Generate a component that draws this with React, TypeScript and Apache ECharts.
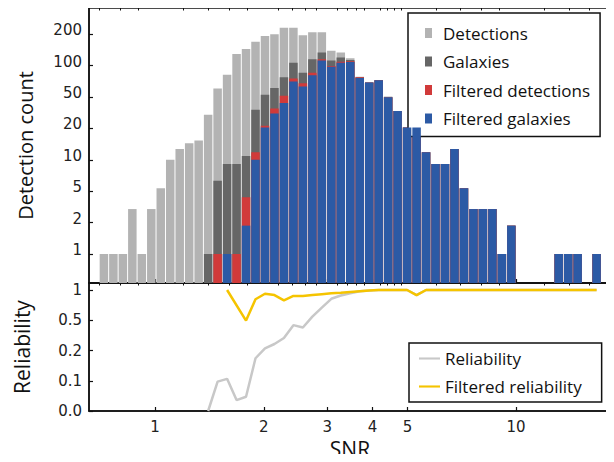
import React, { useEffect, useRef } from "react";
import * as echarts from "echarts";

// ---- data (53 log-spaced SNR bins, 44 bins from 0.7 up to 10) ----
const BIN_LOW_EDGE = 0.7;
const BINS_BELOW_10 = 44;

const detections = [1, 1, 1, 3, 1, 3, 5, 10, 13, 15, 16, 30, 57, 80, 133, 150, 179, 206, 215, 252, 252, 210, 226, 226, 144, 138, 120, 76, 66, 70, 47, 33, 22, 26, 12, 9, 9, 13, 5, 3, 3, 3, 1, 2, 0, 0, 0, 0, 1, 1, 1, 0, 1];
const galaxies = [0, 0, 0, 0, 0, 0, 0, 0, 0, 0, 0, 1, 6, 9, 9, 11, 34, 49, 58, 75, 107, 84, 117, 138, 113, 122, 115, 75, 66, 70, 46, 33, 22, 25, 12, 9, 9, 13, 5, 3, 3, 3, 1, 2, 0, 0, 0, 0, 1, 1, 1, 0, 1];
const filteredDetections = [0, 0, 0, 0, 0, 0, 0, 0, 0, 0, 0, 0, 1, 1, 1, 4, 12, 23, 35, 48, 73, 65, 84, 117, 99, 110, 111, 75, 66, 70, 46, 33, 22, 25, 12, 9, 9, 13, 5, 3, 3, 3, 1, 2, 0, 0, 0, 0, 1, 1, 1, 0, 1];
const filteredGalaxies = [0, 0, 0, 0, 0, 0, 0, 0, 0, 0, 0, 0, 0, 1, 0, 2, 10, 22, 31, 40, 68, 60, 79, 113, 97, 107, 109, 74, 66, 70, 46, 33, 22, 22, 12, 9, 9, 13, 5, 3, 3, 3, 1, 2, 0, 0, 0, 0, 1, 1, 1, 0, 1];

const reliability: (number | null)[] = [null, null, null, null, null, null, null, null, null, null, null, 0, 0.097, 0.105, 0.036, 0.047, 0.177, 0.228, 0.254, 0.296, 0.41, 0.386, 0.508, 0.64, 0.8, 0.87, 0.92, 0.97, 0.99, 1, 1, 1, 1, 0.88, 1, 1, 1, 1, 1, 1, 1, 1, 1, 1, 1, 1, 1, 1, 1, 1, 1, 1, 1];
const filteredReliability: (number | null)[] = [null, null, null, null, null, null, null, null, null, null, null, null, null, 1, null, 0.46, 0.79, 0.91, 0.88, 0.77, 0.86, 0.86, 0.88, 0.9, 0.92, 0.93, 0.95, 0.97, 0.99, 1, 1, 1, 1, 0.88, 1, 1, 1, 1, 1, 1, 1, 1, 1, 1, 1, 1, 1, 1, 1, 1, 1, 1, 1];

const xMajorTicks = [1, 2, 3, 4, 5, 10];
const xMinorTicks = [0.7, 0.8, 0.9, 1.2, 1.4, 1.6, 1.8, 2.2, 2.4, 2.6, 2.8, 3.2, 3.4, 3.6, 3.8, 4.2, 4.4, 4.6, 4.8, 6, 7, 8, 9, 12, 14, 16, 18];
const countTickLabels = ["1", "2", "5", "10", "20", "50", "100", "200"];
const countMinorTicks = [0.2, 0.4, 0.6, 0.8, 2, 3, 4, 5, 6, 7, 8, 9, 20, 30, 40, 50, 60, 70, 80, 90, 200, 300, 400];
const relTickLabels = ["0.0", "0.1", "0.2", "0.5", "1"];
const relMinorTicks = [0.02, 0.04, 0.06, 0.08, 0.3, 0.4, 0.6, 0.7, 0.8, 0.9];

// ---- scale helpers ----
const X_MIN = Math.log10(0.656);
const X_MAX = 1.263;
const logLo = Math.log10(BIN_LOW_EDGE);
const binW = (1 - logLo) / BINS_BELOW_10;
const binCenter = (k: number) => logLo + binW * (k + 0.5);

// count axis: linear 0..1, then one label step (31.4) per third of a decade
const C_ONE = 29;
const C_STEP = 31.4;
const countToAxis = (v: number) => (v <= 1 ? C_ONE * v : C_ONE + 3 * C_STEP * Math.log10(v));
// reliability axis: linear 0..0.1, then one label step per third of a decade
const R_STEP = 30.25;
const relToAxis = (v: number) => (v <= 0.1 ? (R_STEP * v) / 0.1 : R_STEP + 3 * R_STEP * Math.log10(v / 0.1));

const FONT_TICK = "DejaVu Sans";
const FONT_TEXT = "Open Sans";

export default function App() {
  const ref = useRef<HTMLDivElement>(null);
  useEffect(() => {
    if (!ref.current) return;
    const chart = echarts.init(ref.current, undefined, { renderer: "svg" });

    const barData = (arr: number[]) =>
      arr.map((v, k) => (v > 0 ? [binCenter(k), countToAxis(v)] : null)).filter((d) => d !== null);
    const lineData = (arr: (number | null)[]) =>
      arr.map((v, k) => (v === null ? null : [binCenter(k), relToAxis(v)])).filter((d) => d !== null);

    const axisLine = { show: true, onZero: false, lineStyle: { color: "#111", width: 1.5 } };
    const xMajor = xMajorTicks.map((v) => Math.log10(v));
    const xMinor = xMinorTicks.map((v) => Math.log10(v));

    const xBase = (gridIndex: number) => ({
      type: "value",
      gridIndex,
      min: X_MIN,
      max: X_MAX,
      splitLine: { show: false },
    });

    const countMajor = countTickLabels.map((_, i) => C_ONE + C_STEP * i);
    const countLabelPos = countMajor.map((v) => v + 4);
    const relMajor = relTickLabels.map((_, i) => R_STEP * i);

    const barSeries = (name: string, arr: number[], color: string, z: number) => ({
      type: "bar",
      name,
      xAxisIndex: 0,
      yAxisIndex: 0,
      data: barData(arr),
      barWidth: 8.5,
      barGap: "-100%",
      itemStyle: { color },
      z,
    });

    const noLine = { show: false, onZero: false };

    chart.setOption({
      animation: false,
      backgroundColor: "#fff",
      grid: [
        { left: 89, right: 3, top: 8, height: 275, show: true, borderColor: "#111", borderWidth: 1.5, backgroundColor: "transparent" },
        { left: 89, right: 3, top: 283, height: 128, show: true, borderColor: "#111", borderWidth: 1.5, backgroundColor: "transparent" },
      ],
      xAxis: [
        {
          ...xBase(0),
          axisLine,
          axisTick: { show: true, inside: true, length: 4, customValues: xMajor, lineStyle: { color: "#111", width: 1.2 } },
          axisLabel: { show: false },
        },
        {
          ...xBase(0),
          axisLine: noLine,
          axisTick: { show: true, inside: true, length: 2.5, customValues: xMinor, lineStyle: { color: "#111", width: 1 } },
          axisLabel: { show: false },
        },
        {
          ...xBase(1),
          axisLine,
          axisTick: { show: true, inside: true, length: 4, customValues: xMajor, lineStyle: { color: "#111", width: 1.2 } },
          axisLabel: {
            show: true,
            customValues: xMajor,
            formatter: (v: number) => String(Math.round(Math.pow(10, v))),
            fontFamily: FONT_TICK,
            fontSize: 15,
            color: "#222",
            margin: 8,
          },
          name: "SNR",
          nameLocation: "middle",
          nameGap: 27,
          nameTextStyle: { fontFamily: FONT_TEXT, fontSize: 21, color: "#111" },
        },
        {
          ...xBase(1),
          axisLine: noLine,
          axisTick: { show: true, inside: true, length: 2.5, customValues: xMinor, lineStyle: { color: "#111", width: 1 } },
          axisLabel: { show: false },
        },
      ],
      yAxis: [
        {
          type: "value",
          gridIndex: 0,
          min: 0,
          max: 275,
          splitLine: { show: false },
          axisLine,
          axisTick: { show: true, inside: true, length: 4, customValues: countMajor, lineStyle: { color: "#111", width: 1.2 } },
          axisLabel: {
            show: true,
            customValues: countLabelPos,
            formatter: (v: number) => countTickLabels[Math.round((v - 4 - C_ONE) / C_STEP)],
            fontFamily: FONT_TICK,
            fontSize: 15,
            color: "#222",
            margin: 7,
          },
          name: "Detection count",
          nameLocation: "middle",
          nameGap: 54,
          nameTextStyle: { fontFamily: FONT_TEXT, fontSize: 20, color: "#111" },
        },
        {
          type: "value",
          gridIndex: 0,
          min: 0,
          max: 275,
          splitLine: { show: false },
          axisLine: noLine,
          axisTick: { show: true, inside: true, length: 2.5, customValues: countMinorTicks.map(countToAxis), lineStyle: { color: "#111", width: 1 } },
          axisLabel: { show: false },
        },
        {
          type: "value",
          gridIndex: 1,
          min: 0,
          max: 128,
          splitLine: { show: false },
          axisLine,
          axisTick: { show: true, inside: true, length: 4, customValues: relMajor, lineStyle: { color: "#111", width: 1.2 } },
          axisLabel: {
            show: true,
            customValues: relMajor,
            formatter: (v: number) => relTickLabels[Math.round(v / R_STEP)],
            fontFamily: FONT_TICK,
            fontSize: 15,
            color: "#222",
            margin: 7,
          },
          name: "Reliability",
          nameLocation: "middle",
          nameGap: 57,
          nameTextStyle: { fontFamily: FONT_TEXT, fontSize: 21, color: "#111" },
        },
        {
          type: "value",
          gridIndex: 1,
          min: 0,
          max: 128,
          splitLine: { show: false },
          axisLine: noLine,
          axisTick: { show: true, inside: true, length: 2.5, customValues: relMinorTicks.map(relToAxis), lineStyle: { color: "#111", width: 1 } },
          axisLabel: { show: false },
        },
      ],
      legend: [
        {
          data: ["Detections", "Galaxies", "Filtered detections", "Filtered galaxies"],
          orient: "vertical",
          left: 408,
          top: 13,
          icon: "rect",
          itemWidth: 7,
          itemHeight: 10,
          itemGap: 8.5,
          padding: [10, 10, 8, 17],
          backgroundColor: "#fff",
          borderColor: "#111",
          borderWidth: 1.5,
          borderRadius: 0,
          textStyle: { fontFamily: FONT_TEXT, fontSize: 17, color: "#111", lineHeight: 20, padding: [0, 0, 0, 6] },
        },
        {
          data: ["Reliability", "Filtered reliability"],
          orient: "vertical",
          left: 409,
          top: 343,
          icon: "path://M0,0 L20,0 L20,2 L0,2 Z",
          itemWidth: 21,
          itemHeight: 2.5,
          itemGap: 8,
          padding: [5.5, 20, 5.5, 10],
          backgroundColor: "#fff",
          borderColor: "#111",
          borderWidth: 1.5,
          borderRadius: 0,
          textStyle: { fontFamily: FONT_TEXT, fontSize: 17, color: "#111", lineHeight: 20 },
        },
      ],
      series: [
        barSeries("Detections", detections, "#b3b3b3", 1),
        barSeries("Galaxies", galaxies, "#666666", 2),
        barSeries("Filtered detections", filteredDetections, "#d13a3a", 3),
        barSeries("Filtered galaxies", filteredGalaxies, "#2c5aa5", 4),
        {
          type: "line",
          name: "Reliability",
          xAxisIndex: 2,
          yAxisIndex: 2,
          data: lineData(reliability),
          showSymbol: false,
          symbol: "none",
          lineStyle: { color: "#c8c8c8", width: 2.5 },
          itemStyle: { color: "#c8c8c8" },
          z: 3,
        },
        {
          type: "line",
          name: "Filtered reliability",
          xAxisIndex: 2,
          yAxisIndex: 2,
          data: lineData(filteredReliability),
          showSymbol: false,
          symbol: "none",
          lineStyle: { color: "#f5c400", width: 2.5 },
          itemStyle: { color: "#f5c400" },
          z: 4,
        },
      ],
    });
    return () => chart.dispose();
  }, []);
  return <div ref={ref} style={{ width: 614, height: 462, margin: -8 }} />;
}
